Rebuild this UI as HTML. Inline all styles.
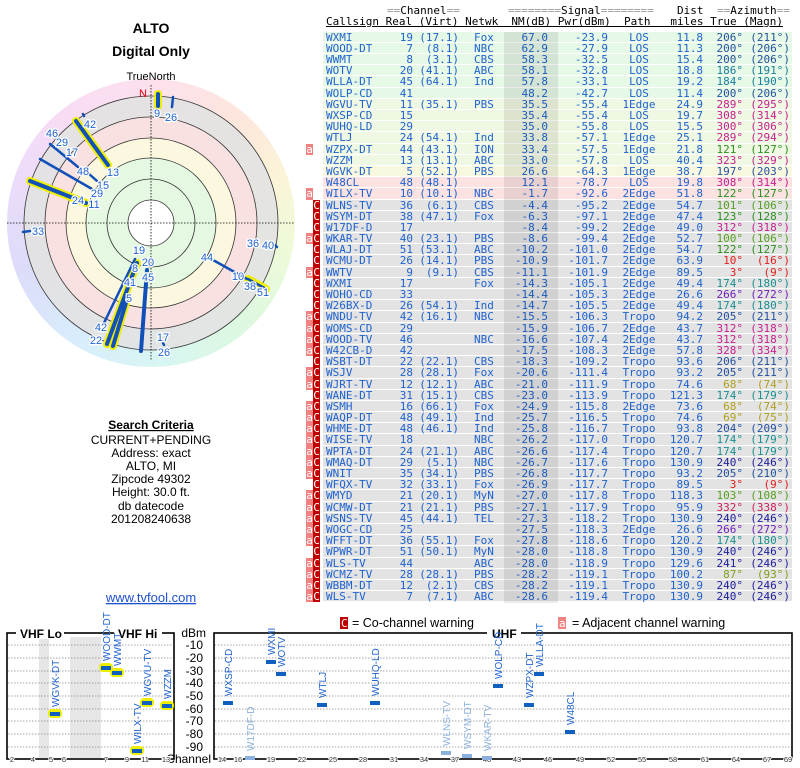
<!DOCTYPE html>
<html><head><meta charset="utf-8">
<style>
*{margin:0;padding:0}
body{width:800px;height:768px;position:relative;background:#fff;overflow:hidden;font-family:"Liberation Sans",sans-serif}
#wheel{position:absolute;left:7px;top:79px;width:288px;height:288px;border-radius:50%;
background:conic-gradient(from 0deg,#fde0ee 0deg,#fde6dc 40deg,#fbf4d8 70deg,#eefad8 100deg,#dcf8e0 140deg,#d8f6f2 175deg,#d8eefc 210deg,#dcdcfa 250deg,#ecdcfa 290deg,#f8dcf4 320deg,#fde0ee 360deg)}
#tbl{position:absolute;left:323px;top:31.7px;width:469px;font-family:"DejaVu Sans Mono","Liberation Mono",monospace;font-size:11px;color:#1f63d0}
.r{position:relative;height:10.2px;border-bottom:1px solid #fff;line-height:11px;white-space:pre}
.g{background:#e6f8e6}.y{background:#eff8e2}.w{background:#f8f8df}.p{background:#fde2e2}.q{background:#e3e3e3}
.r i{font-style:normal;position:absolute;top:0}
.r i:nth-of-type(1){left:3px}
.r i:nth-of-type(2){right:379px}
.r i:nth-of-type(3){right:333px}
.r i:nth-of-type(4){left:151px}
.r i:nth-of-type(5){right:244px}
.r i:nth-of-type(6){right:184px}
.r i:nth-of-type(7){left:286px;width:60px;text-align:center}
.r i:nth-of-type(8){right:89px}
.r i:nth-of-type(9){right:49px}
.r i:nth-of-type(10){right:2px}
.r b,.r s{position:absolute;top:0;width:7px;height:11.2px;text-align:center;color:#fff;font-weight:normal;text-decoration:none}
.r b{left:-17px;background:#f08282}
.r s{left:-10px;background:#c00000}
.k1 i:nth-of-type(n+9){color:#2552a0}
.k2 i:nth-of-type(n+9){color:#1a80a0}
.k3 i:nth-of-type(n+9){color:#c82090}
.k4 i:nth-of-type(n+9){color:#2a901e}
.k5 i:nth-of-type(n+9){color:#56a020}
.k6 i:nth-of-type(n+9){color:#e02020}
.k7 i:nth-of-type(n+9){color:#1a9090}
.k8 i:nth-of-type(n+9){color:#7020b8}
.k9 i:nth-of-type(n+9){color:#b0a020}
.k10 i:nth-of-type(n+9){color:#2020a0}
.k11 i:nth-of-type(n+9){color:#80a020}
.k12 i:nth-of-type(n+9){color:#d02060}
#shade{position:absolute;left:504px;top:31.7px;width:54px;height:571px;background:rgba(0,0,0,0.08)}
#hdr{position:absolute;left:0;top:0;font-family:"DejaVu Sans Mono","Liberation Mono",monospace;font-size:11px;line-height:11px;color:#000}
#hdr span{position:absolute;white-space:pre;line-height:11px}
#hdr span span{position:static}
.gr{color:#999}
</style></head><body>
<div id="wheel"></div>
<svg width="800" height="768" style="position:absolute;left:0;top:0" xmlns="http://www.w3.org/2000/svg">
<g font-family="Liberation Sans, sans-serif">
<text x="151" y="33" font-size="14" font-weight="bold" text-anchor="middle">ALTO</text>
<text x="151" y="56" font-size="14" font-weight="bold" text-anchor="middle">Digital Only</text>
<text x="151" y="80" font-size="11" text-anchor="middle">TrueNorth</text>
</g>
<g stroke="#333" stroke-width="0.8">
<circle cx="151" cy="223" r="127" fill="#e2e2e2" fill-opacity="0.9"/>
<circle cx="151" cy="223" r="106" fill="#fde0e0" fill-opacity="0.85"/>
<circle cx="151" cy="223" r="85" fill="#fbfbdf" fill-opacity="0.9"/>
<circle cx="151" cy="223" r="65" fill="#e2f8e2" fill-opacity="0.9"/>
<circle cx="151" cy="223" r="44" fill="none"/>
<circle cx="151" cy="223" r="23" fill="#fff"/>
</g>
<g stroke="#000" stroke-width="0.8" stroke-dasharray="1.5,1.5">
<line x1="7" y1="223" x2="295" y2="223"/><line x1="151" y1="85" x2="151" y2="360"/>
</g>
<text x="143" y="97" font-size="11" fill="#d00" font-family="Liberation Sans, sans-serif" text-anchor="middle">N</text>
<g stroke-linecap="round">
<g stroke="#ee0" stroke-width="8">
<line x1="158" y1="94" x2="158" y2="106"/>
<line x1="76" y1="121" x2="108" y2="165"/>
<line x1="30" y1="181" x2="86" y2="203"/>
<line x1="248" y1="279" x2="266" y2="289"/>
<line x1="137" y1="263" x2="107" y2="344"/>
<line x1="128" y1="296" x2="113" y2="346"/>
</g>
<g stroke="#1050b8" stroke-width="4">
<line x1="158" y1="94" x2="158" y2="106"/>
<line x1="76" y1="121" x2="108" y2="165"/>
<line x1="30" y1="181" x2="86" y2="203"/>
<line x1="137" y1="263" x2="107" y2="344"/>
<line x1="128" y1="296" x2="113" y2="346"/>
<line x1="147" y1="270" x2="141" y2="351"/>
</g>
<g stroke="#1050b8" stroke-width="2.5">
<line x1="173" y1="97" x2="172" y2="107"/>
<line x1="83" y1="114" x2="84" y2="116"/>
<line x1="50" y1="144" x2="78" y2="167"/>
<line x1="88" y1="173" x2="97" y2="181"/>
<line x1="40" y1="159" x2="92" y2="189"/>
<line x1="23" y1="232" x2="30" y2="231"/>
<line x1="275" y1="245" x2="277" y2="247"/>
<line x1="213" y1="260" x2="247" y2="279"/>
<line x1="248" y1="279" x2="266" y2="289"/>
<line x1="135" y1="259" x2="104" y2="323"/>
<line x1="163" y1="343" x2="164" y2="345"/>
</g>
</g>
<g font-family="Liberation Sans, sans-serif" font-size="11" fill="#1f63d0" stroke="#fff" stroke-width="2.5" paint-order="stroke" text-anchor="middle">
<text x="157" y="117">9</text><text x="171" y="121">26</text>
<text x="90" y="128">42</text><text x="113" y="176">13</text>
<text x="52" y="137">46</text><text x="62" y="146">29</text><text x="72" y="156">17</text>
<text x="83" y="175">48</text><text x="103" y="189">15</text><text x="97" y="197">29</text>
<text x="78" y="204">24</text><text x="94" y="208">11</text><text x="38" y="235">33</text>
<text x="253" y="247">36</text><text x="268" y="249">40</text>
<text x="207" y="261">44</text><text x="238" y="280">10</text><text x="250" y="290">38</text><text x="263" y="296">51</text>
<text x="139" y="254">19</text><text x="148" y="266">20</text><text x="135" y="272">8</text>
<text x="130" y="286">41</text><text x="148" y="281">45</text><text x="129" y="302">5</text>
<text x="101" y="331">42</text><text x="96" y="344">22</text><text x="163" y="341">17</text><text x="164" y="356">26</text>
</g>
<g font-family="Liberation Sans, sans-serif" font-size="12" text-anchor="middle" fill="#000">
<text x="151" y="429" font-weight="bold" text-decoration="underline">Search Criteria</text>
<text x="151" y="444">CURRENT+PENDING</text>
<text x="151" y="457">Address: exact</text>
<text x="151" y="470">ALTO, MI</text>
<text x="151" y="483">Zipcode 49302</text>
<text x="151" y="496">Height: 30.0 ft.</text>
<text x="151" y="510">db datecode</text>
<text x="151" y="523">201208240638</text>
<text x="151" y="602" fill="#1f50d0" font-size="13" text-decoration="underline">www.tvfool.com</text>
</g>
<rect x="340" y="617" width="8" height="12" fill="#c00000"/><text x="341" y="627" font-size="11" fill="#fff" font-family="DejaVu Sans Mono,monospace">C</text>
<text x="352" y="627" font-size="12.5" font-family="Liberation Sans, sans-serif">= Co-channel warning</text>
<rect x="558" y="617" width="8" height="12" fill="#f08282"/><text x="559" y="627" font-size="11" fill="#fff" font-family="DejaVu Sans Mono,monospace">a</text>
<text x="572" y="627" font-size="12.5" font-family="Liberation Sans, sans-serif">= Adjacent channel warning</text>
<rect x="39" y="637" width="10" height="121" fill="#e6e6e6"/>
<rect x="70" y="637" width="31" height="121" fill="#e6e6e6"/>
<g stroke="#888" stroke-width="0.8" stroke-dasharray="1.5,1.5">
<line x1="8" y1="645" x2="173" y2="645"/><line x1="8" y1="658" x2="173" y2="658"/><line x1="8" y1="671" x2="173" y2="671"/><line x1="8" y1="683" x2="173" y2="683"/><line x1="8" y1="696" x2="173" y2="696"/><line x1="8" y1="709" x2="173" y2="709"/><line x1="8" y1="721" x2="173" y2="721"/><line x1="8" y1="734" x2="173" y2="734"/><line x1="8" y1="747" x2="173" y2="747"/>
<line x1="215" y1="645" x2="791" y2="645"/><line x1="215" y1="658" x2="791" y2="658"/><line x1="215" y1="671" x2="791" y2="671"/><line x1="215" y1="683" x2="791" y2="683"/><line x1="215" y1="696" x2="791" y2="696"/><line x1="215" y1="709" x2="791" y2="709"/><line x1="215" y1="721" x2="791" y2="721"/><line x1="215" y1="734" x2="791" y2="734"/><line x1="215" y1="747" x2="791" y2="747"/>
</g>
<g fill="none" stroke="#000" stroke-width="1.6">
<rect x="7" y="633" width="167" height="126"/>
<rect x="214" y="633" width="578" height="126"/>
</g>
<g fill="#fff"><rect x="16" y="627" width="48" height="12"/><rect x="114" y="627" width="48" height="12"/><rect x="487" y="627" width="34" height="12"/></g>
<g font-family="Liberation Sans, sans-serif" font-size="12" font-weight="bold">
<text x="20" y="638">VHF Lo</text><text x="118" y="638">VHF Hi</text><text x="492" y="638">UHF</text>
</g>
<g font-family="Liberation Sans, sans-serif" font-size="12" text-anchor="end">
<text x="206" y="637">dBm</text><text x="203" y="649">-10</text><text x="203" y="662">-20</text><text x="203" y="675">-30</text><text x="203" y="687">-40</text><text x="203" y="700">-50</text><text x="203" y="713">-60</text><text x="203" y="725">-70</text><text x="203" y="738">-80</text><text x="203" y="751">-90</text>
<text x="211" y="763">Channel</text>
</g>
<g font-family="Liberation Sans, sans-serif" font-size="7.5" text-anchor="middle" fill="#333" stroke="#fff" stroke-width="2" paint-order="stroke">
<text x="12" y="762">2</text><text x="33" y="762">4</text><text x="51" y="762">5</text><text x="64" y="762">6</text><text x="106" y="762">7</text><text x="127" y="762">9</text><text x="145" y="762">11</text><text x="166" y="762">13</text>
<text x="222" y="762">14</text><text x="238" y="762">16</text><text x="271" y="762">19</text><text x="302" y="762">22</text><text x="333" y="762">25</text><text x="363" y="762">28</text><text x="394" y="762">31</text><text x="424" y="762">34</text><text x="455" y="762">37</text><text x="487" y="762">40</text><text x="517" y="762">43</text><text x="548" y="762">46</text><text x="580" y="762">49</text><text x="611" y="762">52</text><text x="642" y="762">55</text><text x="673" y="762">58</text><text x="705" y="762">61</text><text x="736" y="762">64</text><text x="767" y="762">67</text><text x="788" y="762">69</text>
</g>
<g fill="#ee0">
<rect x="48" y="709" width="14" height="9" rx="4"/><rect x="99" y="663" width="14" height="9" rx="4"/><rect x="110" y="668" width="14" height="9" rx="4"/><rect x="130" y="746" width="14" height="9" rx="4"/><rect x="140" y="698" width="14" height="9" rx="4"/><rect x="160" y="701" width="14" height="9" rx="4"/>
</g>
<g fill="#1060c0">
<rect x="50" y="712" width="10" height="4"/><rect x="101" y="666" width="10" height="4"/><rect x="112" y="671" width="10" height="4"/><rect x="132" y="749" width="10" height="4"/><rect x="142" y="701" width="10" height="4"/><rect x="162" y="704" width="10" height="4"/>
<rect x="223" y="701" width="10" height="4"/><rect x="266" y="660" width="10" height="4"/><rect x="276" y="672" width="10" height="4"/><rect x="317" y="703" width="10" height="4"/><rect x="370" y="701" width="10" height="4"/><rect x="493" y="684" width="10" height="4"/><rect x="524" y="703" width="10" height="4"/><rect x="534" y="672" width="10" height="4"/><rect x="565" y="730" width="10" height="4"/>
</g>
<g fill="#8ab0e0">
<rect x="245" y="756" width="10" height="4"/><rect x="441" y="751" width="10" height="4"/><rect x="462" y="754" width="10" height="4"/><rect x="482" y="756" width="10" height="4"/>
</g>
<g font-family="Liberation Sans, sans-serif" font-size="10" fill="#1f63d0">
<text transform="translate(59,707) rotate(-90)">WGVK-DT</text>
<text transform="translate(110,661) rotate(-90)">WOOD-DT</text>
<text transform="translate(121,666) rotate(-90)">WWMT</text>
<text transform="translate(141,744) rotate(-90)">WILX-TV</text>
<text transform="translate(151,696) rotate(-90)">WGVU-TV</text>
<text transform="translate(171,699) rotate(-90)">WZZM</text>
<text transform="translate(232,696) rotate(-90)">WXSP-CD</text>
<text transform="translate(275,655) rotate(-90)">WXMI</text>
<text transform="translate(285,667) rotate(-90)">WOTV</text>
<text transform="translate(326,698) rotate(-90)">WTLJ</text>
<text transform="translate(379,696) rotate(-90)">WUHQ-LD</text>
<text transform="translate(502,679) rotate(-90)">WOLP-CD</text>
<text transform="translate(533,698) rotate(-90)">WZPX-DT</text>
<text transform="translate(543,667) rotate(-90)">WLLA-DT</text>
<text transform="translate(574,725) rotate(-90)">W48CL</text>
</g>
<g font-family="Liberation Sans, sans-serif" font-size="10" fill="#8ab0e0">
<text transform="translate(254,751) rotate(-90)">W17DF-D</text>
<text transform="translate(450,746) rotate(-90)">WLNS-TV</text>
<text transform="translate(471,749) rotate(-90)">WSYM-DT</text>
<text transform="translate(491,751) rotate(-90)">WKAR-TV</text>
</g>
</svg>
<div id="hdr">
<span style="left:387px;top:5px"><span class="gr">==</span>Channel<span class="gr">==</span></span>
<span style="left:508px;top:5px"><span class="gr">========</span>Signal<span class="gr">========</span></span>
<span style="left:677px;top:5px">Dist</span>
<span style="left:717px;top:5px"><span class="gr">==</span>Azimuth<span class="gr">==</span></span>
<span style="left:326px;top:16px;text-decoration:underline">Callsign Real (Virt) Netwk  NM(dB) Pwr(dBm)  Path   miles True (Magn)</span>
</div>
<div id="tbl">
<div class="r g k1"><i>WXMI</i><i>19</i><i>(17.1)</i><i>Fox</i><i>67.0</i><i>-23.9</i><i>LOS</i><i>11.8</i><i>206°</i><i>(211°)</i></div>
<div class="r g k1"><i>WOOD-DT</i><i>7</i><i>(8.1)</i><i>NBC</i><i>62.9</i><i>-27.9</i><i>LOS</i><i>11.3</i><i>200°</i><i>(206°)</i></div>
<div class="r g k1"><i>WWMT</i><i>8</i><i>(3.1)</i><i>CBS</i><i>58.3</i><i>-32.5</i><i>LOS</i><i>15.4</i><i>200°</i><i>(206°)</i></div>
<div class="r g k2"><i>WOTV</i><i>20</i><i>(41.1)</i><i>ABC</i><i>58.1</i><i>-32.8</i><i>LOS</i><i>18.8</i><i>186°</i><i>(191°)</i></div>
<div class="r g k2"><i>WLLA-DT</i><i>45</i><i>(64.1)</i><i>Ind</i><i>57.8</i><i>-33.1</i><i>LOS</i><i>19.2</i><i>184°</i><i>(190°)</i></div>
<div class="r g k1"><i>WOLP-CD</i><i>41</i><i></i><i></i><i>48.2</i><i>-42.7</i><i>LOS</i><i>11.4</i><i>200°</i><i>(206°)</i></div>
<div class="r y k3"><i>WGVU-TV</i><i>11</i><i>(35.1)</i><i>PBS</i><i>35.5</i><i>-55.4</i><i>1Edge</i><i>24.9</i><i>289°</i><i>(295°)</i></div>
<div class="r y k3"><i>WXSP-CD</i><i>15</i><i></i><i></i><i>35.4</i><i>-55.4</i><i>LOS</i><i>19.7</i><i>308°</i><i>(314°)</i></div>
<div class="r y k3"><i>WUHQ-LD</i><i>29</i><i></i><i></i><i>35.0</i><i>-55.8</i><i>LOS</i><i>15.5</i><i>300°</i><i>(306°)</i></div>
<div class="r y k3"><i>WTLJ</i><i>24</i><i>(54.1)</i><i>Ind</i><i>33.8</i><i>-57.1</i><i>1Edge</i><i>25.1</i><i>289°</i><i>(294°)</i></div>
<div class="r y k4"><b>a</b><i>WZPX-DT</i><i>44</i><i>(43.1)</i><i>ION</i><i>33.4</i><i>-57.5</i><i>1Edge</i><i>21.8</i><i>121°</i><i>(127°)</i></div>
<div class="r y k3"><i>WZZM</i><i>13</i><i>(13.1)</i><i>ABC</i><i>33.0</i><i>-57.8</i><i>LOS</i><i>40.4</i><i>323°</i><i>(329°)</i></div>
<div class="r w k1"><i>WGVK-DT</i><i>5</i><i>(52.1)</i><i>PBS</i><i>26.6</i><i>-64.3</i><i>1Edge</i><i>38.7</i><i>197°</i><i>(203°)</i></div>
<div class="r p k3"><i>W48CL</i><i>48</i><i>(48.1)</i><i></i><i>12.1</i><i>-78.7</i><i>LOS</i><i>19.8</i><i>308°</i><i>(314°)</i></div>
<div class="r p k4"><b>a</b><i>WILX-TV</i><i>10</i><i>(10.1)</i><i>NBC</i><i>-1.7</i><i>-92.6</i><i>2Edge</i><i>51.8</i><i>122°</i><i>(127°)</i></div>
<div class="r q k5"><s>C</s><i>WLNS-TV</i><i>36</i><i>(6.1)</i><i>CBS</i><i>-4.4</i><i>-95.2</i><i>2Edge</i><i>54.7</i><i>101°</i><i>(106°)</i></div>
<div class="r q k4"><s>C</s><i>WSYM-DT</i><i>38</i><i>(47.1)</i><i>Fox</i><i>-6.3</i><i>-97.1</i><i>2Edge</i><i>47.4</i><i>123°</i><i>(128°)</i></div>
<div class="r q k3"><s>C</s><i>W17DF-D</i><i>17</i><i></i><i></i><i>-8.4</i><i>-99.2</i><i>2Edge</i><i>49.0</i><i>312°</i><i>(318°)</i></div>
<div class="r q k5"><b>a</b><s>C</s><i>WKAR-TV</i><i>40</i><i>(23.1)</i><i>PBS</i><i>-8.6</i><i>-99.4</i><i>2Edge</i><i>52.7</i><i>100°</i><i>(106°)</i></div>
<div class="r q k4"><s>C</s><i>WLAJ-DT</i><i>51</i><i>(53.1)</i><i>ABC</i><i>-10.2</i><i>-101.0</i><i>2Edge</i><i>54.7</i><i>122°</i><i>(127°)</i></div>
<div class="r q k6"><s>C</s><i>WCMU-DT</i><i>26</i><i>(14.1)</i><i>PBS</i><i>-10.9</i><i>-101.7</i><i>2Edge</i><i>63.9</i><i>10°</i><i>(16°)</i></div>
<div class="r q k6"><b>a</b><s>C</s><i>WWTV</i><i>9</i><i>(9.1)</i><i>CBS</i><i>-11.1</i><i>-101.9</i><i>2Edge</i><i>89.5</i><i>3°</i><i>(9°)</i></div>
<div class="r q k7"><s>C</s><i>WXMI</i><i>17</i><i></i><i>Fox</i><i>-14.3</i><i>-105.1</i><i>2Edge</i><i>49.4</i><i>174°</i><i>(180°)</i></div>
<div class="r q k8"><s>C</s><i>WOHO-CD</i><i>33</i><i></i><i></i><i>-14.4</i><i>-105.3</i><i>2Edge</i><i>26.6</i><i>266°</i><i>(272°)</i></div>
<div class="r q k7"><s>C</s><i>W26BX-D</i><i>26</i><i>(54.1)</i><i>Ind</i><i>-14.7</i><i>-105.5</i><i>2Edge</i><i>49.4</i><i>174°</i><i>(180°)</i></div>
<div class="r q k1"><b>a</b><s>C</s><i>WNDU-TV</i><i>42</i><i>(16.1)</i><i>NBC</i><i>-15.5</i><i>-106.3</i><i>Tropo</i><i>94.2</i><i>205°</i><i>(211°)</i></div>
<div class="r q k3"><b>a</b><s>C</s><i>WOMS-CD</i><i>29</i><i></i><i></i><i>-15.9</i><i>-106.7</i><i>2Edge</i><i>43.7</i><i>312°</i><i>(318°)</i></div>
<div class="r q k3"><b>a</b><s>C</s><i>WOOD-TV</i><i>46</i><i></i><i>NBC</i><i>-16.6</i><i>-107.4</i><i>2Edge</i><i>43.7</i><i>312°</i><i>(318°)</i></div>
<div class="r q k3"><b>a</b><s>C</s><i>W42CB-D</i><i>42</i><i></i><i></i><i>-17.5</i><i>-108.3</i><i>2Edge</i><i>57.8</i><i>328°</i><i>(334°)</i></div>
<div class="r q k1"><s>C</s><i>WSBT-DT</i><i>22</i><i>(22.1)</i><i>CBS</i><i>-18.3</i><i>-109.2</i><i>Tropo</i><i>93.6</i><i>206°</i><i>(211°)</i></div>
<div class="r q k1"><b>a</b><s>C</s><i>WSJV</i><i>28</i><i>(28.1)</i><i>Fox</i><i>-20.6</i><i>-111.4</i><i>Tropo</i><i>93.2</i><i>205°</i><i>(211°)</i></div>
<div class="r q k9"><b>a</b><s>C</s><i>WJRT-TV</i><i>12</i><i>(12.1)</i><i>ABC</i><i>-21.0</i><i>-111.9</i><i>Tropo</i><i>74.6</i><i>68°</i><i>(74°)</i></div>
<div class="r q k7"><s>C</s><i>WANE-DT</i><i>31</i><i>(15.1)</i><i>CBS</i><i>-23.0</i><i>-113.9</i><i>Tropo</i><i>121.3</i><i>174°</i><i>(179°)</i></div>
<div class="r q k9"><b>a</b><s>C</s><i>WSMH</i><i>16</i><i>(66.1)</i><i>Fox</i><i>-24.9</i><i>-115.8</i><i>2Edge</i><i>73.6</i><i>68°</i><i>(74°)</i></div>
<div class="r q k9"><b>a</b><s>C</s><i>WAQP-DT</i><i>48</i><i>(49.1)</i><i>Ind</i><i>-25.7</i><i>-116.5</i><i>Tropo</i><i>74.6</i><i>69°</i><i>(75°)</i></div>
<div class="r q k1"><b>a</b><s>C</s><i>WHME-DT</i><i>48</i><i>(46.1)</i><i>Ind</i><i>-25.8</i><i>-116.7</i><i>Tropo</i><i>93.8</i><i>204°</i><i>(209°)</i></div>
<div class="r q k7"><b>a</b><s>C</s><i>WISE-TV</i><i>18</i><i></i><i>NBC</i><i>-26.2</i><i>-117.0</i><i>Tropo</i><i>120.7</i><i>174°</i><i>(179°)</i></div>
<div class="r q k7"><b>a</b><s>C</s><i>WPTA-DT</i><i>24</i><i>(21.1)</i><i>ABC</i><i>-26.6</i><i>-117.4</i><i>Tropo</i><i>120.7</i><i>174°</i><i>(179°)</i></div>
<div class="r q k10"><b>a</b><s>C</s><i>WMAQ-DT</i><i>29</i><i>(5.1)</i><i>NBC</i><i>-26.7</i><i>-117.6</i><i>Tropo</i><i>130.9</i><i>240°</i><i>(246°)</i></div>
<div class="r q k1"><b>a</b><s>C</s><i>WNIT</i><i>35</i><i>(34.1)</i><i>PBS</i><i>-26.8</i><i>-117.7</i><i>Tropo</i><i>93.2</i><i>205°</i><i>(210°)</i></div>
<div class="r q k6"><s>C</s><i>WFQX-TV</i><i>32</i><i>(33.1)</i><i>Fox</i><i>-26.9</i><i>-117.7</i><i>Tropo</i><i>89.5</i><i>3°</i><i>(9°)</i></div>
<div class="r q k5"><b>a</b><s>C</s><i>WMYD</i><i>21</i><i>(20.1)</i><i>MyN</i><i>-27.0</i><i>-117.8</i><i>Tropo</i><i>118.3</i><i>103°</i><i>(108°)</i></div>
<div class="r q k12"><b>a</b><s>C</s><i>WCMW-DT</i><i>21</i><i>(21.1)</i><i>PBS</i><i>-27.1</i><i>-117.9</i><i>Tropo</i><i>95.9</i><i>332°</i><i>(338°)</i></div>
<div class="r q k10"><b>a</b><s>C</s><i>WSNS-TV</i><i>45</i><i>(44.1)</i><i>TEL</i><i>-27.3</i><i>-118.2</i><i>Tropo</i><i>130.9</i><i>240°</i><i>(246°)</i></div>
<div class="r q k8"><b>a</b><s>C</s><i>WOGC-CD</i><i>25</i><i></i><i></i><i>-27.5</i><i>-118.3</i><i>2Edge</i><i>26.6</i><i>266°</i><i>(272°)</i></div>
<div class="r q k7"><b>a</b><s>C</s><i>WFFT-DT</i><i>36</i><i>(55.1)</i><i>Fox</i><i>-27.8</i><i>-118.6</i><i>Tropo</i><i>120.2</i><i>174°</i><i>(180°)</i></div>
<div class="r q k10"><s>C</s><i>WPWR-DT</i><i>51</i><i>(50.1)</i><i>MyN</i><i>-28.0</i><i>-118.8</i><i>Tropo</i><i>130.9</i><i>240°</i><i>(246°)</i></div>
<div class="r q k10"><b>a</b><s>C</s><i>WLS-TV</i><i>44</i><i></i><i>ABC</i><i>-28.0</i><i>-118.9</i><i>Tropo</i><i>129.6</i><i>241°</i><i>(246°)</i></div>
<div class="r q k11"><b>a</b><s>C</s><i>WCMZ-TV</i><i>28</i><i>(28.1)</i><i>PBS</i><i>-28.2</i><i>-119.1</i><i>Tropo</i><i>100.2</i><i>87°</i><i>(93°)</i></div>
<div class="r q k10"><b>a</b><s>C</s><i>WBBM-DT</i><i>12</i><i>(2.1)</i><i>CBS</i><i>-28.2</i><i>-119.1</i><i>Tropo</i><i>130.9</i><i>240°</i><i>(246°)</i></div>
<div class="r q k10"><b>a</b><s>C</s><i>WLS-TV</i><i>7</i><i>(7.1)</i><i>ABC</i><i>-28.6</i><i>-119.4</i><i>Tropo</i><i>130.9</i><i>240°</i><i>(246°)</i></div>
</div>
<div id="shade"></div>
</body></html>
